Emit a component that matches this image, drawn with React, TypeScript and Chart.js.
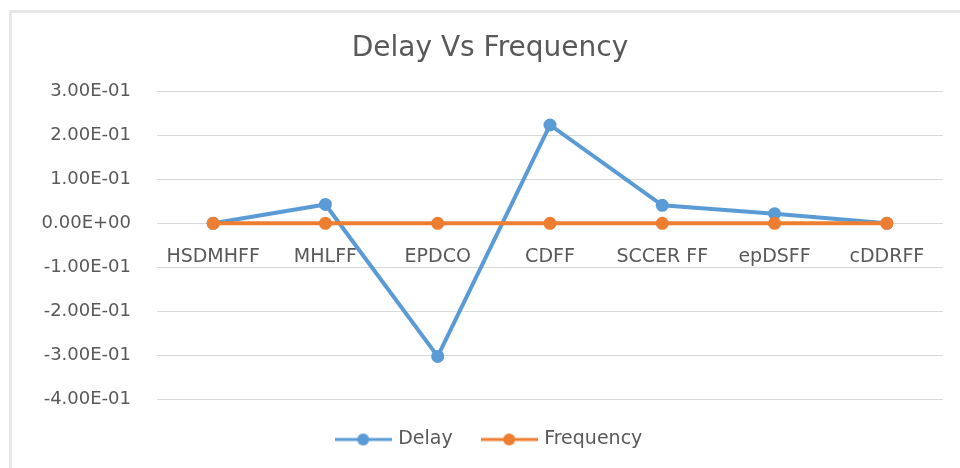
import { useEffect, useRef } from "react";
import { Chart, registerables } from "chart.js";

Chart.register(...registerables);

const chartTitle = "Delay Vs Frequency";
const categories = ["HSDMHFF", "MHLFF", "EPDCO", "CDFF", "SCCER FF", "epDSFF", "cDDRFF"];
const seriesNames = ["Delay", "Frequency"];
const delayValues = [0, 0.043, -0.303, 0.224, 0.041, 0.022, 0];
const frequencyValues = [0, 0, 0, 0, 0, 0, 0];
const yMin = -0.4;
const yMax = 0.3;
const yStep = 0.1;

const FONT = "'DejaVu Sans', sans-serif";
const TEXT = "#595959";
const BLUE = "#5B9BD5";
const ORANGE = "#ED7D31";
const GRID = "#d9d9d9";

function fmt(v: number): string {
  if (Math.abs(v) < 1e-10) return "0.00E+00";
  const [m, e] = Number(v).toExponential(2).split("e");
  const n = parseInt(e, 10);
  return `${m}E${n < 0 ? "-" : "+"}${String(Math.abs(n)).padStart(2, "0")}`;
}

function legendSymbol(color: string): HTMLCanvasElement {
  const c = document.createElement("canvas");
  c.width = 57;
  c.height = 14;
  const x = c.getContext("2d")!;
  x.strokeStyle = color;
  x.lineWidth = 3;
  x.beginPath();
  x.moveTo(0, 7);
  x.lineTo(57, 7);
  x.stroke();
  x.fillStyle = color;
  x.beginPath();
  x.arc(28.5, 7, 6, 0, Math.PI * 2);
  x.fill();
  return c;
}

const categoryLabels = {
  id: "categoryLabels",
  beforeDatasetsDraw(chart: any) {
    const { ctx, scales } = chart;
    const xs = scales.x;
    const ys = scales.y;
    const y0 = ys.getPixelForValue(0);
    ctx.save();
    ctx.font = `19px ${FONT}`;
    ctx.fillStyle = TEXT;
    ctx.textAlign = "center";
    ctx.textBaseline = "middle";
    categories.forEach((c, i) => {
      ctx.fillText(c, xs.getPixelForValue(i), y0 + 34);
    });
    ctx.restore();
  },
};

export default function App() {
  const ref = useRef<HTMLCanvasElement>(null);

  useEffect(() => {
    if (!ref.current) return;
    const colors = [BLUE, ORANGE];
    const symbols = colors.map(legendSymbol);
    const chart = new Chart(ref.current, {
      type: "line",
      data: {
        labels: categories,
        datasets: [
          {
            label: seriesNames[0],
            data: delayValues,
            borderColor: BLUE,
            backgroundColor: BLUE,
            pointBackgroundColor: BLUE,
            pointBorderColor: BLUE,
            borderWidth: 4,
            pointRadius: 6.5,
            pointBorderWidth: 0,
            tension: 0,
            order: 1,
          },
          {
            label: seriesNames[1],
            data: frequencyValues,
            borderColor: ORANGE,
            backgroundColor: ORANGE,
            pointBackgroundColor: ORANGE,
            pointBorderColor: ORANGE,
            borderWidth: 4,
            pointRadius: 6.5,
            pointBorderWidth: 0,
            tension: 0,
            order: 0,
          },
        ],
      },
      options: {
        animation: false,
        responsive: false,
        maintainAspectRatio: false,
        layout: { padding: { left: 37, right: 17, top: 15, bottom: 9 } },
        scales: {
          x: {
            type: "category",
            display: false,
            offset: true,
          },
          y: {
            min: yMin,
            max: yMax,
            border: { display: false },
            grid: { color: GRID, lineWidth: 1, drawTicks: false },
            ticks: {
              stepSize: yStep,
              padding: 26,
              color: TEXT,
              font: { family: FONT, size: 18 },
              callback: (v: any) => fmt(Number(v)),
            },
            afterFit(scale: any) {
              scale.width = 120;
            },
          },
        },
        plugins: {
          title: {
            display: true,
            text: chartTitle,
            color: TEXT,
            font: { family: FONT, size: 28, weight: "normal" },
            padding: { top: 17, bottom: 26 },
          },
          legend: {
            display: true,
            position: "bottom",
            labels: {
              usePointStyle: true,
              pointStyleWidth: 51,
              padding: 31,
              color: TEXT,
              font: { family: FONT, size: 19 },
              sort: (a: any, b: any) => a.datasetIndex - b.datasetIndex,
              generateLabels: (ch: any) => {
                const items = Chart.defaults.plugins.legend.labels.generateLabels(ch);
                return items.map((it: any) => ({
                  ...it,
                  pointStyle: symbols[it.datasetIndex],
                  fontColor: TEXT,
                }));
              },
            },
          },
          tooltip: { enabled: false },
        },
      },
      plugins: [categoryLabels],
    });
    return () => chart.destroy();
  }, []);

  return (
    <div
      style={{
        position: "fixed",
        left: 0,
        top: 0,
        width: 960,
        height: 468,
        overflow: "hidden",
        background: "#fff",
      }}
    >
      <div
        style={{
          position: "absolute",
          left: 9,
          top: 10,
          width: 1000,
          height: 1000,
          border: "3px solid #e8e8e8",
          boxSizing: "border-box",
        }}
      />
      <canvas
        ref={ref}
        width={960}
        height={468}
        style={{ position: "absolute", left: 0, top: 0, width: 960, height: 468 }}
      />
    </div>
  );
}
